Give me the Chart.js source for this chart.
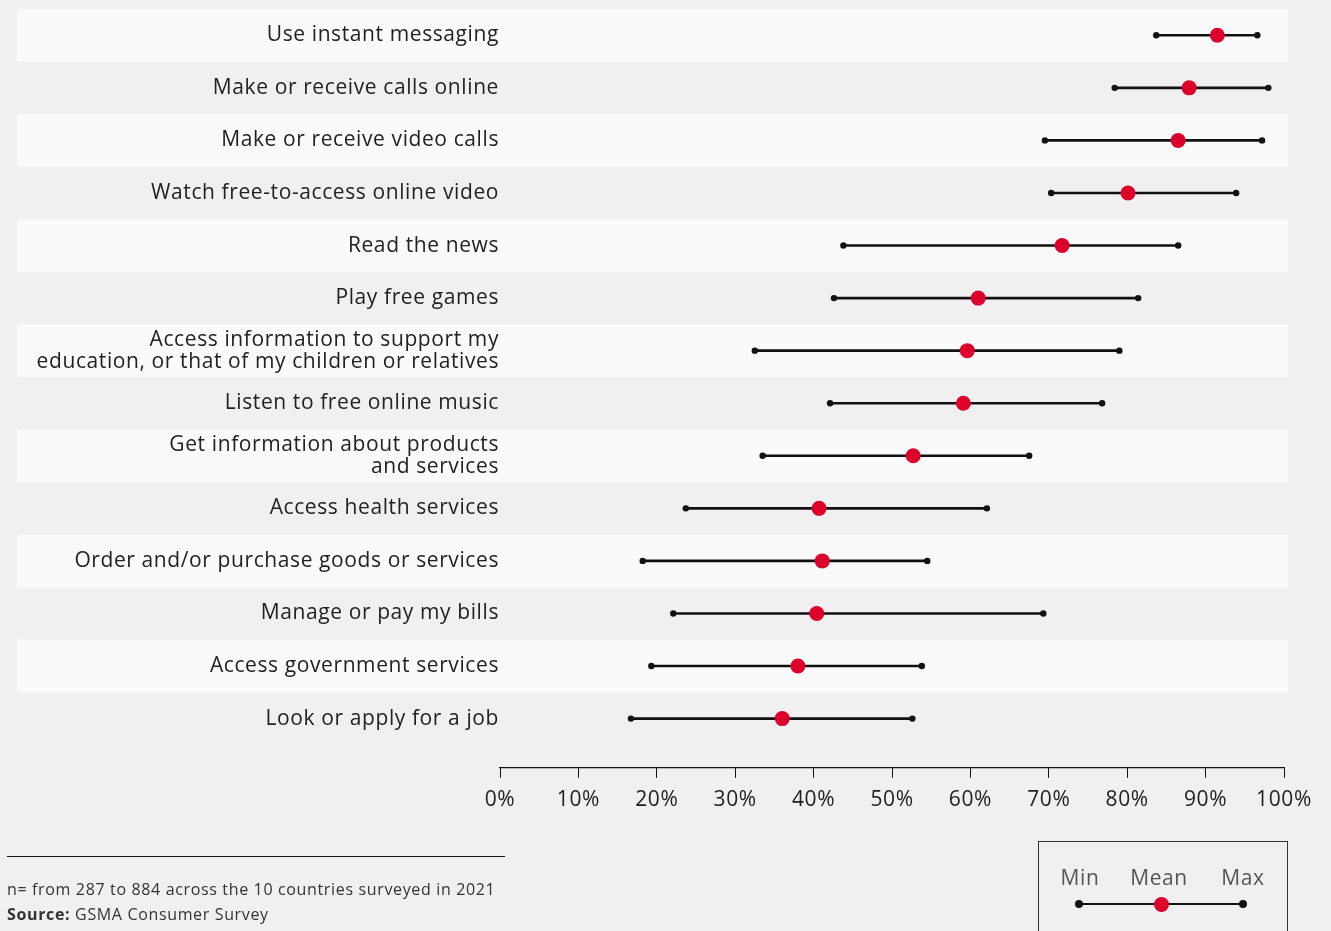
<!DOCTYPE html>
<html lang="en">
<head>
    <meta charset="UTF-8">
    <title>Online activities: min, mean, max</title>
    <script src="https://cdn.jsdelivr.net/npm/chart.js@4.4.1/dist/chart.umd.min.js"></script>
    <style>
        body { margin: 0; background: #f0f0f0; font-family: "Open Sans", sans-serif; }
        #wrap { position: relative; width: 1331px; height: 931px; overflow: hidden; }
        #chart { position: absolute; left: 0; top: 0; }
        .rule { position: absolute; left: 7px; top: 856px; width: 498px; border-top: 1.5px solid #111; }
        .note { position: absolute; left: 7px; font-size: 16px; letter-spacing: 0.65px; color: #333; }
        .key { position: absolute; left: 1038px; top: 841px; width: 250px; height: 110px; border: 1px solid #333; box-sizing: border-box; }
        .key span { position: absolute; top: 21px; font-size: 21px; letter-spacing: 0.6px; color: #555; transform: translateX(-50%); }
        .key .ln { position: absolute; left: 40px; top: 61px; width: 165px; border-top: 2px solid #111; }
        .key .d { position: absolute; border-radius: 50%; }
    </style>
</head>
<body>
<div id="wrap">
    <canvas id="chart" width="1331" height="931"></canvas>
    <div class="rule"></div>
    <div class="note" style="top:878px">n= from 287 to 884 across the 10 countries surveyed in 2021</div>
    <div class="note" style="top:903px"><b>Source:</b> GSMA Consumer Survey</div>
    <div class="key">
        <span style="left:41px">Min</span>
        <span style="left:120px">Mean</span>
        <span style="left:204px">Max</span>
        <div class="ln"></div>
        <div class="d" style="left:36px;top:58px;width:8px;height:8px;background:#111"></div>
        <div class="d" style="left:200px;top:58px;width:8px;height:8px;background:#111"></div>
        <div class="d" style="left:115px;top:55px;width:15px;height:15px;background:#dd002b"></div>
    </div>
</div>
<script>
const labels = [
    'Use instant messaging',
    'Make or receive calls online',
    'Make or receive video calls',
    'Watch free-to-access online video',
    'Read the news',
    'Play free games',
    ['Access information to support my', 'education, or that of my children or relatives'],
    'Listen to free online music',
    ['Get information about products', 'and services'],
    'Access health services',
    'Order and/or purchase goods or services',
    'Manage or pay my bills',
    'Access government services',
    'Look or apply for a job'
];
const minVals  = [83.7, 78.4, 69.5, 70.3, 43.8, 42.6, 32.5, 42.1, 33.5, 23.7, 18.2, 22.1, 19.3, 16.7];
const meanVals = [91.5, 87.9, 86.5, 80.1, 71.7, 61.0, 59.6, 59.1, 52.7, 40.7, 41.1, 40.4, 38.0, 36.0];
const maxVals  = [96.6, 98.0, 97.2, 93.9, 86.5, 81.4, 79.0, 76.8, 67.5, 62.1, 54.5, 69.3, 53.8, 52.6];
const xTicks = [0, 10, 20, 30, 40, 50, 60, 70, 80, 90, 100];

const red = '#dd002b';
const ink = '#111';

// alternating row bands, also behind the labels
const bands = {
    id: 'bands',
    beforeDraw(chart) {
        const {ctx, scales: {y}} = chart;
        ctx.save();
        ctx.fillStyle = '#fafafa';
        labels.forEach((l, i) => {
            if (i % 2) return;
            const a = y.getPixelForValue(i - 0.5);
            const b = y.getPixelForValue(i + 0.5);
            ctx.fillRect(17, a, 1288 - 17, b - a);
        });
        ctx.restore();
        ctx.letterSpacing = '0.6px';  // wider text, closer to the original face
    }
};

const pts = arr => arr.map((v, i) => ({x: v, y: i}));

new Chart(document.getElementById('chart'), {
    type: 'bar',
    data: {
        datasets: [
            {
                type: 'scatter', label: 'Mean', data: pts(meanVals), order: 0,
                pointRadius: 7.5, pointBackgroundColor: red, pointBorderWidth: 0
            },
            {
                type: 'scatter', label: 'Min', data: pts(minVals), order: 1,
                pointRadius: 3.2, pointBackgroundColor: ink, pointBorderWidth: 0
            },
            {
                type: 'scatter', label: 'Max', data: pts(maxVals), order: 1,
                pointRadius: 3.2, pointBackgroundColor: ink, pointBorderWidth: 0
            },
            {
                label: 'Range', order: 2,
                data: minVals.map((v, i) => ({x: [v, maxVals[i]], y: i})),
                backgroundColor: ink, barThickness: 2, borderSkipped: false
            }
        ]
    },
    options: {
        indexAxis: 'y',
        responsive: false,
        animation: false,
        layout: {padding: {top: 9, right: 47, bottom: 108, left: 0}},
        plugins: {legend: {display: false}, tooltip: {enabled: false}},
        scales: {
            x: {
                type: 'linear', min: 0, max: 100,
                afterBuildTicks: s => { s.ticks = xTicks.map(v => ({value: v})); },
                afterFit: s => { s.paddingLeft = 0; s.paddingRight = 0; },
                ticks: {
                    callback: v => v + '%', color: '#222', padding: 10,
                    font: {family: 'Open Sans', size: 21}
                },
                grid: {drawOnChartArea: false, drawTicks: true, tickLength: 10, color: ink, tickWidth: 1},
                border: {display: true, color: ink, width: 1.2}
            },
            y: {
                type: 'linear', reverse: true, offset: false, min: -0.5, max: 13.936,
                afterBuildTicks: s => { s.ticks = labels.map((l, i) => ({value: i})); },
                afterFit: s => { s.width = 500; s.paddingTop = 0; s.paddingBottom = 0; },
                ticks: {
                    callback: v => labels[v], color: '#222', padding: 1,
                    font: {family: 'Open Sans', size: 21, lineHeight: 1.05}
                },
                grid: {display: false, drawTicks: false},
                border: {display: false}
            }
        }
    },
    plugins: [bands]
});
</script>
</body>
</html>
